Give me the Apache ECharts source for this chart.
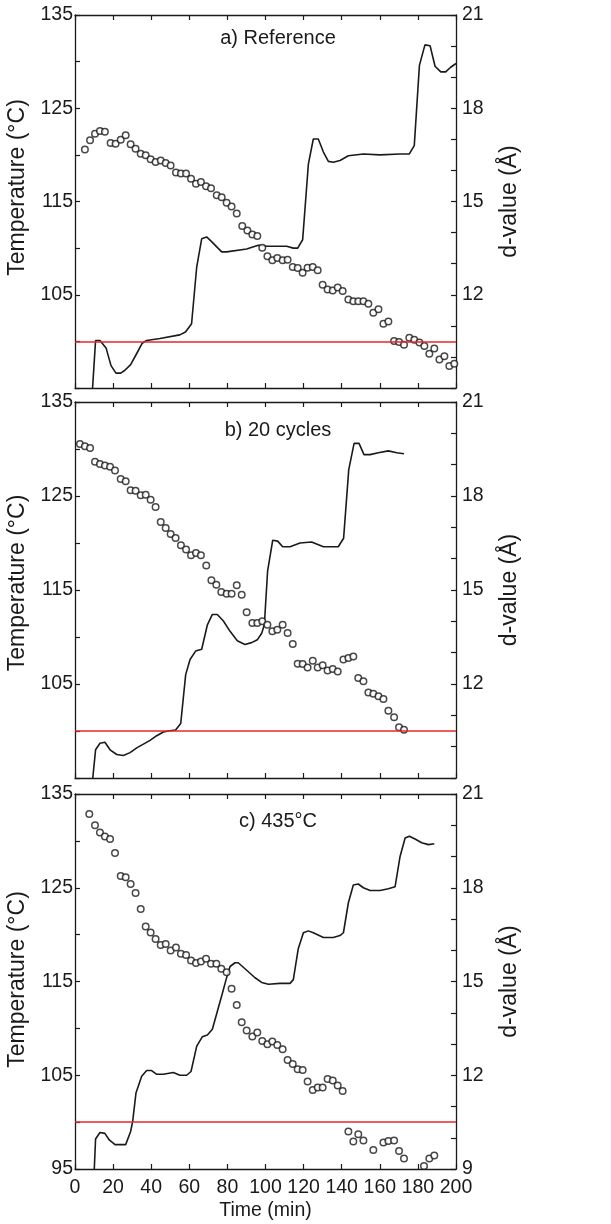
<!DOCTYPE html>
<html><head><meta charset="utf-8">
<script src="https://cdn.jsdelivr.net/npm/echarts/dist/echarts.min.js"></script>
<style>html,body{margin:0;padding:0;background:#fff}#c{width:611px;height:1224px}</style>
</head><body><div id="c"></div><script>
// ---------- DATA ----------
const panelTitles = ['a) Reference', 'b) 20 cycles', 'c) 435\u00B0C'];
const xTicks = [0, 20, 40, 60, 80, 100, 120, 140, 160, 180, 200];
const tempTicks = [95, 105, 115, 125, 135];
const dTicks = [9, 12, 15, 18, 21];
const redLineTemp = 100;

// Panel a: temperature line
const timeA = [8.3,10.8,13.1,16.3,18.9,21.5,24.0,26.2,29.2,32.4,35.3,37.6,44.6,55.0,58.0,61.2,63.9,66.5,69.1,71.7,77.0,79.6,90.1,96.2,100.6,111.1,114.6,116.9,119.5,122.5,125.1,127.7,130.4,133.0,135.6,139.1,143.5,151.4,160.1,170.6,175.5,178.1,180.8,183.7,186.4,189.0,192.0,194.6,197.2,200];
const tempA = [92,100.1,100.1,99.3,97.4,96.6,96.6,96.9,97.5,98.7,99.8,100.1,100.3,100.7,101.0,101.9,108.0,111.0,111.2,110.7,109.6,109.6,109.9,110.3,110.2,110.2,110.0,110.0,110.9,119.0,121.7,121.7,120.3,119.3,119.2,119.4,119.9,120.1,120.0,120.1,120.1,121.0,129.6,131.8,131.7,129.5,128.9,128.9,129.4,129.8];
// Panel a: d-value points
const dTimeA = [5.2,7.9,10.5,13.1,15.7,18.7,21.3,24.0,26.6,29.2,31.8,34.5,37.1,39.7,42.3,45.0,47.6,50.2,53.0,55.6,58.3,60.9,63.5,66.1,68.8,71.4,74.4,77.0,79.6,82.2,84.9,87.8,90.5,93.1,95.7,98.3,101.0,103.6,106.2,109.0,111.6,114.3,116.9,119.5,122.1,124.8,127.4,130.0,132.6,135.3,137.9,140.5,143.5,146.1,148.7,151.4,154.0,156.6,159.3,161.9,164.5,167.5,170.1,172.7,175.5,178.1,180.8,183.4,186.0,188.6,191.3,193.9,196.5,199.1];
const dValA = [16.67,16.97,17.18,17.27,17.24,16.88,16.86,16.99,17.13,16.84,16.70,16.54,16.49,16.36,16.27,16.32,16.24,16.16,15.93,15.90,15.90,15.73,15.57,15.63,15.49,15.43,15.20,15.14,14.96,14.84,14.61,14.21,14.07,13.94,13.89,13.51,13.24,13.11,13.18,13.11,13.13,12.89,12.86,12.71,12.87,12.89,12.79,12.32,12.17,12.14,12.23,12.12,11.85,11.79,11.79,11.79,11.71,11.42,11.53,11.07,11.14,10.51,10.48,10.39,10.62,10.55,10.46,10.35,10.10,10.27,9.92,10.02,9.71,9.78];

// Panel b: temperature line
const timeB = [8.6,10.8,13.1,15.7,18.4,21.9,25.4,28.9,32.4,35.9,39.4,42.9,46.4,49.0,52.8,55.5,58.1,60.4,63.3,66.5,69.5,72.1,74.7,77.9,81.4,85.2,89.2,92.7,95.7,98.0,99.4,101.1,103.8,106.4,109.0,112.9,118.1,124.2,130.4,135.6,138.2,141.0,143.7,146.5,149.1,151.7,154.9,159.2,164.5,168.9,172.7];
const tempB = [93.5,98.0,98.7,98.8,98.0,97.5,97.4,97.7,98.2,98.6,99.0,99.5,99.9,100.0,100.1,100.8,106.0,107.6,108.5,108.7,111.3,112.4,112.4,111.7,110.6,109.6,109.2,109.4,109.7,110.4,111.3,117.0,120.3,120.2,119.6,119.6,120.0,120.1,119.6,119.6,119.6,120.5,127.8,130.6,130.6,129.4,129.4,129.6,129.8,129.6,129.5];
// Panel b: d-value points
const dTimeB = [2.6,5.2,7.9,10.5,13.1,15.7,18.4,21.0,24.0,26.6,29.2,31.8,34.5,37.1,39.7,42.3,45.0,47.6,50.2,52.8,55.6,58.3,60.9,63.5,66.1,68.9,71.6,74.2,76.8,79.6,82.2,84.9,87.5,90.1,93.1,95.7,98.3,101.0,103.6,106.2,109.0,111.6,114.3,116.9,119.5,122.1,124.8,127.4,130.0,132.6,135.3,137.9,140.9,143.5,146.1,148.7,151.4,154.0,156.6,159.3,161.9,164.5,167.5,170.1,172.7];
const dValB = [19.66,19.59,19.53,19.09,19.02,18.97,18.93,18.81,18.54,18.47,18.18,18.17,18.02,18.04,17.88,17.65,17.17,16.98,16.79,16.66,16.43,16.29,16.11,16.18,16.11,15.78,15.31,15.17,14.94,14.88,14.88,15.15,14.85,14.29,13.95,13.95,14.0,13.89,13.68,13.73,13.89,13.63,13.28,12.65,12.64,12.53,12.74,12.53,12.60,12.43,12.48,12.40,12.78,12.83,12.88,12.19,12.09,11.73,11.69,11.61,11.52,11.15,10.94,10.62,10.54];

// Panel c: temperature line
const timeC = [9.8,10.8,13.1,15.7,18.0,21.0,23.6,26.6,29.2,30.3,32.0,35.0,37.6,40.2,42.9,46.4,51.6,55.1,58.6,60.9,63.9,66.8,69.5,72.1,74.7,77.3,79.3,81.4,84.0,85.7,90.1,94.5,98.0,101.5,107.6,112.9,114.6,117.2,119.9,122.5,125.1,130.4,135.6,139.1,140.9,143.5,146.1,148.7,151.4,154.9,160.1,164.5,168.0,170.6,173.3,175.5,178.5,182.0,185.5,188.6];
const tempC = [93.5,98.2,98.9,98.8,98.1,97.6,97.6,97.6,99.0,100.1,103.1,104.9,105.5,105.5,105.1,105.1,105.3,105.0,105.0,105.4,108.1,109.1,109.3,109.9,111.8,113.7,115.2,116.6,117.0,117.0,116.2,115.4,114.9,114.7,114.8,114.8,115.2,118.5,120.2,120.4,120.2,119.7,119.7,119.9,120.2,123.4,125.3,125.4,125.0,124.7,124.7,124.9,125.1,128.3,130.3,130.5,130.2,129.8,129.6,129.7];
// Panel c: d-value points
const dTimeC = [7.5,10.5,13.1,15.7,18.4,21.0,24.0,26.6,29.2,31.8,34.5,37.1,39.7,42.3,45.0,47.6,50.2,53.0,55.6,58.3,60.9,63.5,66.1,68.8,71.4,74.2,76.8,79.6,82.2,84.9,87.5,90.1,93.1,95.7,98.3,101.0,103.6,106.2,109.0,111.6,114.3,116.9,119.5,122.1,124.8,127.4,130.0,132.6,135.3,137.9,140.5,143.5,146.1,148.7,151.4,156.6,161.9,164.5,167.5,170.1,172.7,183.2,186.0,188.6];
const dValC = [20.36,20.0,19.77,19.64,19.56,19.11,18.38,18.34,18.12,17.83,17.32,16.76,16.57,16.36,16.17,16.20,15.99,16.09,15.89,15.85,15.67,15.59,15.64,15.73,15.57,15.57,15.41,15.30,14.77,14.25,13.70,13.43,13.24,13.37,13.10,12.99,13.08,12.97,12.83,12.49,12.36,12.19,12.17,11.80,11.53,11.61,11.61,11.88,11.83,11.67,11.50,10.20,9.88,10.11,9.91,9.61,9.85,9.90,9.91,9.58,9.34,9.10,9.34,9.43];

// ---------- CHART ----------
const smallFam = "'Liberation Sans', Arial, sans-serif";
const smallSize = 19.5;
const nameFam = "'Liberation Sans', Arial, sans-serif";
const ink = '#1a1a1a';

const panels = [
  {t: timeA, T: tempA, dt: dTimeA, d: dValA, top: 15, h: 373, titleY: 38, namePad: 28},
  {t: timeB, T: tempB, dt: dTimeB, d: dValB, top: 402, h: 376, titleY: 430, namePad: 14},
  {t: timeC, T: tempC, dt: dTimeC, d: dValC, top: 794, h: 375, titleY: 821, namePad: 4}
];

const axisLine = {show: true, onZero: false, lineStyle: {color: ink, width: 1.3}};
const tick = {show: true, inside: true, length: 5, lineStyle: {color: ink, width: 1.2}};
const labelStyle = {color: ink, fontFamily: smallFam, fontSize: smallSize};

const grid = [], xAxis = [], yAxis = [], series = [], graphic = [];
panels.forEach((p, i) => {
  const last = i === panels.length - 1;
  grid.push({left: 75, width: 381, top: p.top, height: p.h, containLabel: false, outerBoundsMode: 'none'});
  xAxis.push({
    type: 'value', gridIndex: i, position: 'bottom', min: xTicks[0], max: xTicks[xTicks.length-1],
    interval: xTicks[1]-xTicks[0], axisLine, axisTick: tick, splitLine: {show: false},
    axisLabel: {show: last, margin: 9, ...labelStyle},
    name: last ? 'Time (min)' : '', nameLocation: 'middle', nameGap: 32,
    nameTextStyle: {color: ink, fontFamily: smallFam, fontSize: smallSize}
  });
  xAxis.push({
    type: 'value', gridIndex: i, position: 'top', min: xTicks[0], max: xTicks[xTicks.length-1],
    interval: xTicks[1]-xTicks[0], axisLine, axisTick: tick, splitLine: {show: false},
    axisLabel: {show: false}
  });
  yAxis.push({
    type: 'value', gridIndex: i, position: 'left', min: tempTicks[0], max: tempTicks[tempTicks.length-1],
    interval: tempTicks[1]-tempTicks[0], axisLine, axisTick: tick,
    minorTick: {show: true, splitNumber: 2, length: 5, lineStyle: {color: ink, width: 1.2}},
    splitLine: {show: false}, minorSplitLine: {show: false},
    axisLabel: {margin: 2, ...labelStyle, formatter: v => (!last && v === tempTicks[0]) ? '' : String(v)},
    name: 'Temperature (\u00B0C)', nameLocation: 'middle', nameGap: 37, nameRotate: 90,
    nameTextStyle: {color: ink, fontFamily: nameFam, fontSize: 23, padding: [0, 0, 0, p.namePad]}
  });
  yAxis.push({
    type: 'value', gridIndex: i, position: 'right', min: dTicks[0], max: dTicks[dTicks.length-1],
    interval: dTicks[1]-dTicks[0], axisLine, axisTick: tick,
    minorTick: {show: true, splitNumber: 3, length: 5, lineStyle: {color: ink, width: 1.2}},
    splitLine: {show: false}, minorSplitLine: {show: false},
    axisLabel: {margin: 6, ...labelStyle, formatter: v => (!last && v === dTicks[0]) ? '' : String(v)},
    name: 'd-value (\u00C5)', nameLocation: 'middle', nameGap: 42, nameRotate: 90,
    nameTextStyle: {color: ink, fontFamily: nameFam, fontSize: 23}
  });
  series.push({
    type: 'line', xAxisIndex: 2*i, yAxisIndex: 2*i, data: p.t.map((x, k) => [x, p.T[k]]),
    showSymbol: false, symbol: 'none', clip: true, lineStyle: {color: ink, width: 1.6}, z: 3,
    markLine: {silent: true, symbol: ['none', 'none'], label: {show: false},
      lineStyle: {color: '#e8262b', width: 1.5, type: 'solid'}, data: [{yAxis: redLineTemp}]}
  });
  series.push({
    type: 'scatter', xAxisIndex: 2*i, yAxisIndex: 2*i+1, data: p.dt.map((x, k) => [x, p.d[k]]),
    symbol: 'circle', symbolSize: 6.5, clip: false, z: 4,
    itemStyle: {color: '#ffffff', borderColor: ink, borderWidth: 1.5}
  });
  graphic.push({type: 'text', x: 278, y: p.titleY, z: 10,
    style: {text: panelTitles[i], fill: ink, font: '20px ' + smallFam, align: 'center', verticalAlign: 'middle'}});
});

const chart = echarts.init(document.getElementById('c'), null, {renderer: 'canvas'});
chart.setOption({animation: false, backgroundColor: '#ffffff', grid, xAxis, yAxis, series, graphic});
</script></body></html>
